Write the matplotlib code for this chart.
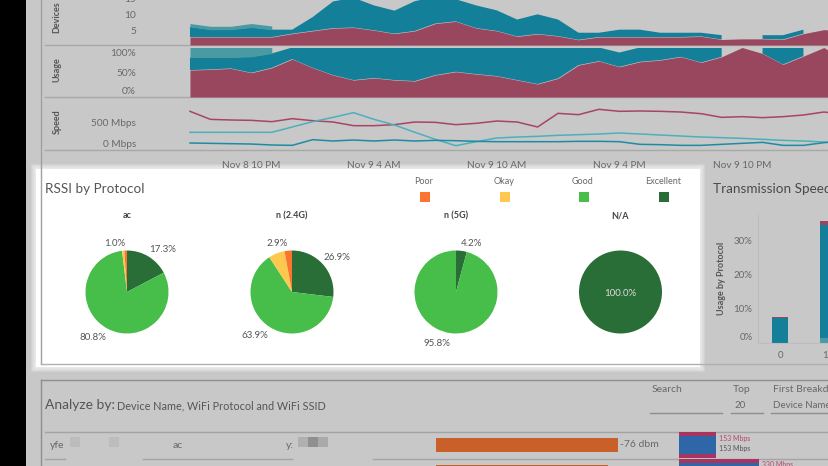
"""Dashboard screenshot: timeline rows up top, RSSI pies highlighted, detail table below."""

import numpy as np
import matplotlib
matplotlib.use("Agg")
import matplotlib.pyplot as plt
from matplotlib.patches import Rectangle

W, H = 829, 466
nan = np.nan

hours = np.arange(33)  # h0 = Nov 8 7 PM
time_ticks = [3, 9, 15, 21, 27]
time_labels = ["Nov 8 10 PM", "Nov 9 4 AM", "Nov 9 10 AM", "Nov 9 4 PM", "Nov 9 10 PM"]

devices_red = [2.6, 2.6, 2.6, 2.6, 2.6, 3.7, 4.6, 5.5, 5.7, 4.8, 3.7, 4.6, 7.0, 7.7, 5.5, 4.6, 2.8,
               3.6, 2.9, 1.7, 2.6, 2.6, 2.6, 2.6, 2.6, 2.8, 1.8, 2.0, 2.0, 1.8, 3.7, 5.0, 4.6]
devices_teal = [5.9, 5.0, 5.0, 5.7, 5.0, 5.0, 9.1, 14.2, 15.4, 12.9, 11.2, 14.3, 15.7, 14.9, 12.9, 11.3, 8.3,
                10.0, 8.3, 4.0, 4.0, 5.0, 5.0, 4.0, 4.0, 4.0, 3.2, nan, 3.2, 3.2, 5.0, nan, nan]
devices_light = [7.0, 6.1, 6.1, 7.0, 6.2] + [nan] * 28

usage_red = [54.4, 55.7, 57.7, 49.0, 59.0, 76.5, 59.0, 44.3, 34.2, 38.3, 34.2, 32.2, 44.3, 51.0, 46.3, 42.3, 34.2,
             26.2, 37.6, 64.4, 72.5, 61.0, 71.1, 74.5, 81.2, 69.8, 81.2, 100, 87.9, 65.8, 82.6, 100, 74.5]
usage_teal = [79.9, 79.9, 79.9, 81.2, 87.9] + [100] * 16 + [89.9, 100, 100, 100, 100, 100, nan, 100, 100, 100, nan, nan]
usage_light = [100] * 5 + [nan] * 28

speed_red = [750, 562, 547, 539, 508, 578, 531, 500, 414, 414, 438, 500, 492, 438, 469, 523, 500,
             383, 703, 672, 797, 750, 758, 750, 734, 695, 609, 625, 602, 625, 664, 734, 680]
speed_light = [258, 258, 258, 258, 258, 383, 508, 609, 719, 562, 430, 258, 94, -55, 39, 125, 148,
               164, 188, 203, 219, 242, 219, 195, 172, 148, 133, 117, 94, 70, 55, 31, 16]
speed_dark = [8, 0, -8, -16, -39, -47, 86, 55, 78, 55, 78, 55, 70, 62, 47, 39, 39,
              39, 39, 47, 47, 39, -23, -31, -47, -47, -23, 0, 23, -47, -47, 16, 47]

rssi_levels = ["Excellent", "Good", "Okay", "Poor"]
pie_titles = ["ac", "n (2.4G)", "n (5G)", "N/A"]
pie_values = [[17.3, 80.8, 0.9, 1.0], [26.9, 63.9, 6.3, 2.9], [4.2, 95.8, 0, 0], [100, 0, 0, 0]]
pie_labels = [["17.3%", "80.8%", "1.0%"], ["26.9%", "63.9%", "2.9%"], ["4.2%", "95.8%"], ["100.0%"]]

tx_speeds = [0, 10]
tx_light = [0.1, 1.5]
tx_teal = [7.4, 33.2]
tx_red = [0.2, 1.2]

row_rssi = [76, 72]
row_speed = [153, 330]

BG = "#c8c8c8"
TEAL = "#137f98"
RED = "#99475f"
LIGHT = "#4a9aa3"
TEXT = "#686868"
RSSI_COL = {"Excellent": "#2a6e37", "Good": "#47bd4a", "Okay": "#fec84f", "Poor": "#fb7430"}

plt.rcParams["font.family"] = ["Lato", "DejaVu Sans"]

fig = plt.figure(figsize=(W / 100, H / 100), dpi=100, facecolor=BG)


def px_axes(x0, y0, x1, y1):
    ax = fig.add_axes([x0 / W, 1 - y1 / H, (x1 - x0) / W, (y1 - y0) / H])
    ax.patch.set_visible(False)
    for s in ax.spines.values():
        s.set_visible(False)
    return ax


# backdrop in pixel coords: black strip, glow around the highlighted panel, rules, loose text
ov = px_axes(0, 0, W, H)
ov.set_xlim(0, W)
ov.set_ylim(H, 0)
ov.axis("off")
ov.add_patch(Rectangle((0, 0), 26.5, H, color="black", lw=0))
for pad in range(5, 0, -1):
    ov.add_patch(Rectangle((36 - pad, 169 - pad), 664 + 2 * pad, 198 + 2 * pad, color="white", alpha=0.18, lw=0))
ov.add_patch(Rectangle((36, 169), 664, 198, color="white", lw=0))

line_col = "#a8a8a8"
for y in (45, 97, 150):
    ov.plot([45, W], [y, y], color=line_col, lw=1)
ov.plot([41.5, 41.5], [0, 364], color="#a0a0a0", lw=1)
ov.plot([41.5, W], [364, 364], color="#b0b0b0", lw=1)
ov.plot([41.5, 41.5], [379.5, H], color="#8e8e8e", lw=1)
ov.plot([41.5, W], [379.5, 379.5], color="#8e8e8e", lw=1)
ov.plot([45, W], [431.5, 431.5], color="#a4a4a4", lw=1)
for x0, x1 in ((45, 65), (143, 292), (373, W)):
    ov.plot([x0, x1], [459, 459], color="#a4a4a4", lw=1)
for x0, x1 in ((650, 722), (731, 763), (771, W)):
    ov.plot([x0, x1], [412.5, 412.5], color="#8e8e8e", lw=1)

for y, name in ((17, "Devices"), (70, "Usage"), (122, "Speed")):
    ov.text(57, y, name, rotation=90, ha="center", va="center", fontsize=6.5, fontweight="bold", color="#555555")

ov.text(45, 189, "RSSI by Protocol", fontsize=9.7, va="center", color="#555555")
ov.text(713, 189, "Transmission Speed", fontsize=9.7, va="center", color="#4a4a4a", clip_on=True)
ov.text(722, 278, "Usage by Protocol", rotation=90, ha="center", va="center", fontsize=6.5, fontweight="bold", color="#555555")

# legend
for x, lev in ((424, "Poor"), (504, "Okay"), (583, "Good"), (663, "Excellent")):
    ov.text(x, 182, lev, ha="center", va="center", fontsize=6.5, color=TEXT)
    ov.add_patch(Rectangle((x - 4, 192), 10, 10, color=RSSI_COL[lev], lw=0))

# timeline rows share the hour scale
xlim = (-2.64, 31.25)


def row_axes(y0, y1, ylim, ticks, labels):
    ax = px_axes(136, y0, W, y1)
    ax.set_xlim(*xlim)
    ax.set_ylim(*ylim)
    ax.set_xticks([])
    ax.set_yticks(ticks, labels)
    ax.tick_params(axis="y", length=0, pad=0, labelsize=7.3, labelcolor=TEXT)
    return ax


dev = row_axes(-5, 45, (0, 16.3), [4.8, 10, 15], ["5", "10", "15"])
dev.fill_between(hours, 0, devices_red, color=RED, lw=0)
dev.fill_between(hours, devices_red, devices_teal, color=TEAL, lw=0)
dev.fill_between(hours, devices_teal, devices_light, color=LIGHT, lw=0)

use = row_axes(47.5, 97, (0, 100), [13, 49, 90], ["0%", "50%", "100%"])
use.fill_between(hours, 0, usage_red, color=RED, lw=0)
use.fill_between(hours, usage_red, usage_teal, color=TEAL, lw=0)
use.fill_between(hours, usage_teal, usage_light, color=LIGHT, lw=0)

spd = row_axes(99, 150, (-156, 1039), [0, 500], ["0 Mbps", "500 Mbps"])
spd.plot(hours, speed_red, color="#a84465", lw=1.1)
spd.plot(hours, speed_light, color="#4cb0bb", lw=1.1)
spd.plot(hours, speed_dark, color="#1c8ca5", lw=1.1)
spd.set_xticks(time_ticks, time_labels)
spd.tick_params(axis="x", length=0, pad=8, labelsize=7.2, labelcolor=TEXT)

# pies
pie_centres = [127, 292, 456, 620.5]
R = 41.5
label_pos = [
    [(163, 249), (93, 338), (115, 243)],
    [(337, 257), (255, 336), (277, 243)],
    [(472, 243), (437, 343)],
    [(620, 293)],
]
for cx, title, vals, labs, pos in zip(pie_centres, pie_titles, pie_values, pie_labels, label_pos):
    ax = px_axes(cx - R, 292 - R, cx + R, 292 + R)
    ax.pie(vals, colors=[RSSI_COL[k] for k in rssi_levels], startangle=90, counterclock=False, radius=1,
           wedgeprops={"lw": 0})
    ax.set_xlim(-1, 1)
    ax.set_ylim(-1, 1)
    ov.text(cx, 216, title, ha="center", va="center", fontsize=6.5, fontweight="bold", color="#444444")
    for lab, (x, y) in zip(labs, pos):
        col = "#dcdcdc" if title == "N/A" else "#555555"
        fig.text(x / W, 1 - y / H, lab, ha="center", va="center", fontsize=7, color=col, zorder=5)

# transmission speed bars
tx = px_axes(758, 215, W, 343)
tx.set_xlim(-4.63, 10.3)
tx.set_ylim(0, 128 / 3.4)
tx.bar(tx_speeds, tx_light, width=3.37, color=LIGHT)
tx.bar(tx_speeds, tx_teal, width=3.37, bottom=tx_light, color=TEAL)
tx.bar(tx_speeds, tx_red, width=3.37, bottom=np.add(tx_light, tx_teal), color=RED)
tx.spines["left"].set_visible(True)
tx.spines["bottom"].set_visible(True)
tx.spines["left"].set_color("#bcbcbc")
tx.spines["bottom"].set_color("#bcbcbc")
tx.set_xticks(tx_speeds, [str(s) for s in tx_speeds])
tx.set_yticks([2, 10, 20, 30], ["0%", "10%", "20%", "30%"])
tx.tick_params(length=0, labelsize=7, labelcolor=TEXT)
tx.tick_params(axis="x", pad=6)
tx.tick_params(axis="y", pad=4)

# table header
ov.text(45, 405, "Analyze by:", fontsize=10, va="center", color="#555555")
ov.text(117, 406, "Device Name, WiFi Protocol and WiFi SSID", fontsize=7.8, va="center", color="#555555")
ov.text(652, 390, "Search", fontsize=7.5, va="center", color=TEXT)
ov.text(733, 390, "Top", fontsize=7.5, va="center", color=TEXT)
ov.text(735, 406, "20", fontsize=7, va="center", color=TEXT)
ov.text(773, 390, "First Breakdown", fontsize=7.5, va="center", color=TEXT)
ov.text(773, 405.5, "Device Name", fontsize=7, va="center", color=TEXT)

# first row, device names are pixelated out in the source
ov.text(50, 445, "yfe", fontsize=7.5, va="center", color=TEXT)
ov.text(173, 445, "ac", fontsize=7.5, va="center", color=TEXT)
ov.text(286, 445, "y:", fontsize=7.5, va="center", color=TEXT)
for x, w, c in ((70, 10, "#bcbcbc"), (109, 10, "#bcbcbc"), (298, 10, "#b0b0b0"), (308, 10, "#8f8f8f"), (318, 10, "#aaaaaa")):
    ov.add_patch(Rectangle((x, 437), w, 10, color=c, lw=0))

# table bars, one row is 27 px
rows = [0, 1]
rs = px_axes(435.7, 432, 640, H)
rs.set_xlim(0, 204.3 / 2.4)
rs.set_ylim(0.78, -0.48)
rs.axis("off")
rs.barh(rows, row_rssi, height=0.52, color="#c9602a")
rs.text(row_rssi[0] + 1, 0, f"-{row_rssi[0]} dbm", fontsize=7.5, va="center", color=TEXT)

sp = px_axes(679, 432, W, H)
sp.set_xlim(0, 150 / 0.242)
sp.set_ylim(0.78, -0.48)
sp.axis("off")
sp.barh(rows, row_speed, height=0.96, color="#a83560")
sp.barh(rows, row_speed, height=0.67, color="#2f66a8")
sp.text(row_speed[0] + 12, -0.24, f"{row_speed[0]} Mbps", fontsize=5, va="center", color="#b8486f")
sp.text(row_speed[0] + 12, 0.13, f"{row_speed[0]} Mbps", fontsize=5, va="center", color="#555555")
sp.text(row_speed[1] + 12, 0.72, f"{row_speed[1]} Mbps", fontsize=5, va="center", color="#b8486f")

fig.savefig("out.png", dpi=100, facecolor=fig.get_facecolor())
